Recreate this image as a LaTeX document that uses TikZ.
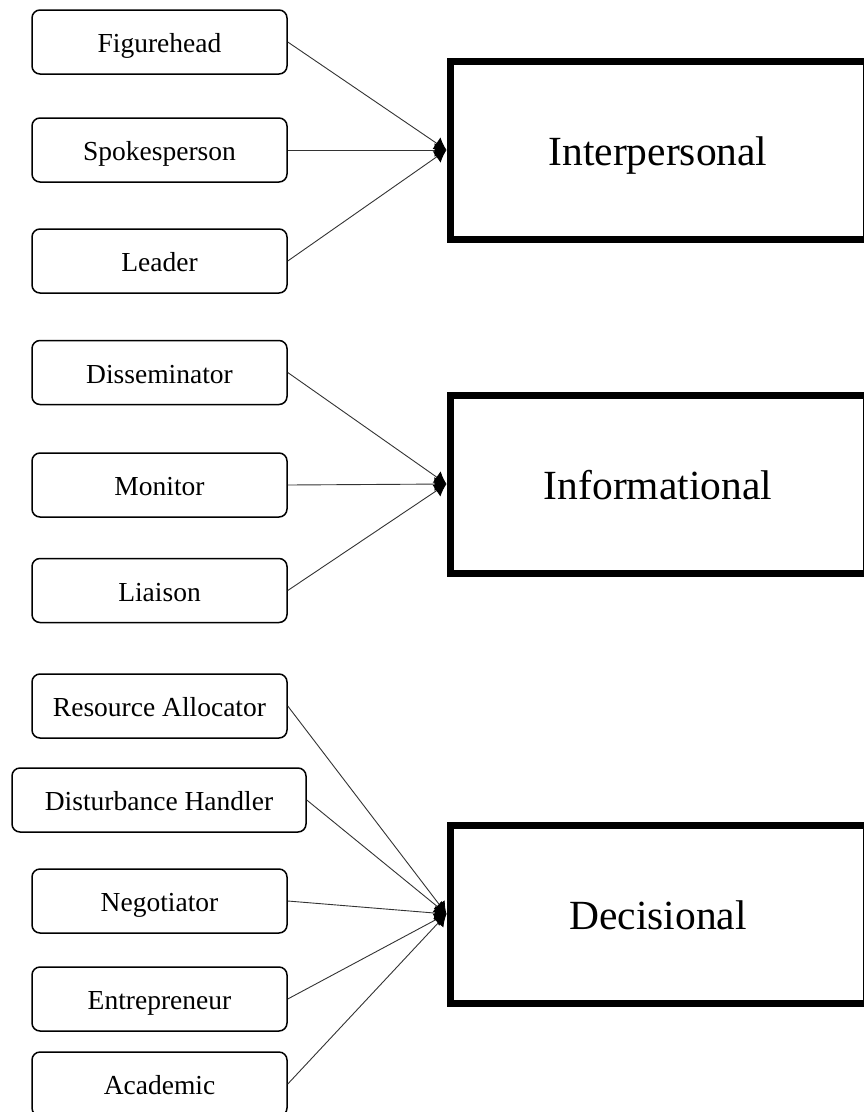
\documentclass[tikz,border=0pt]{standalone}
\usepackage{fontspec}
\setmainfont{Liberation Serif}
\usetikzlibrary{arrows.meta}
\tikzset{
  role/.style={draw=black, line width=1.5pt, rounded corners=8pt, minimum width=255pt, minimum height=64pt, inner sep=0pt, text height=21pt, text depth=0pt, font=\fontsize{27.5}{32}\selectfont},
  group/.style={draw=black, line width=7pt, minimum width=416pt, minimum height=178pt, inner sep=0pt, text height=30pt, text depth=0pt, font=\fontsize{41.5}{48}\selectfont},
  conn/.style={draw=black!80, line width=0.9pt, -{Latex[length=12pt,width=14pt,black]}}
}
\begin{document}
\begin{tikzpicture}[x=1pt,y=-1pt]
\useasboundingbox (0,0) rectangle (864,1112);
\clip (0,0) rectangle (864,1112);
% group boxes
\node[group] (inter) at (658,150) {Interpersonal};
\node[group] (info) at (658,484) {Informational};
\node[group] (deci) at (658,914) {Decisional};
% roles
\node[role] (fig) at (159.5,42) {Figurehead};
\node[role] (spk) at (159.5,150) {Spokesperson};
\node[role] (lead) at (159.5,261) {Leader};
\node[role] (diss) at (159.5,372.5) {Disseminator};
\node[role] (mon) at (159.5,485) {Monitor};
\node[role] (liai) at (159.5,590.5) {Liaison};
\node[role] (res) at (159.5,706) {Resource Allocator};
\node[role, minimum width=294pt] (dist) at (159,800) {Disturbance Handler};
\node[role] (neg) at (159.5,901) {Negotiator};
\node[role] (ent) at (159.5,999) {Entrepreneur};
\node[role] (acad) at (159.5,1084) {Academic};
% connectors
\draw[conn] (fig.east) -- (inter.west);
\draw[conn] (spk.east) -- (inter.west);
\draw[conn] (lead.east) -- (inter.west);
\draw[conn] (diss.east) -- (info.west);
\draw[conn] (mon.east) -- (info.west);
\draw[conn] (liai.east) -- (info.west);
\draw[conn] (res.east) -- (deci.west);
\draw[conn] (dist.east) -- (deci.west);
\draw[conn] (neg.east) -- (deci.west);
\draw[conn] (ent.east) -- (deci.west);
\draw[conn] (acad.east) -- (deci.west);
\end{tikzpicture}
\end{document}
